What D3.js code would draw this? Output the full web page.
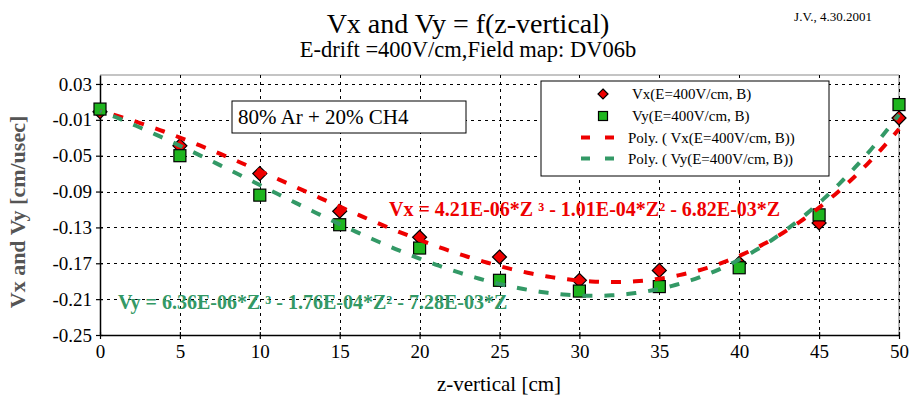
<!DOCTYPE html>
<html><head><meta charset="utf-8">
<script src="https://cdn.jsdelivr.net/npm/d3@7"></script>
<style>
body{margin:0;background:#fff}
svg{display:block}
text{font-family:"Liberation Serif","Times New Roman",serif}
</style>
</head><body>
<svg id="c" width="910" height="403"></svg>
<script>
// ---- data ----
const zValues  = [0, 5, 10, 15, 20, 25, 30, 35, 40, 45, 50];
const vxValues = [-0.001, -0.039, -0.070, -0.112, -0.141, -0.163, -0.189, -0.178, -0.170, -0.125, -0.008];
const vyValues = [0.002, -0.050, -0.094, -0.127, -0.153, -0.189, -0.201, -0.196, -0.175, -0.116, 0.007];
const xTicks = [0, 5, 10, 15, 20, 25, 30, 35, 40, 45, 50];
const yTicks = [-0.25, -0.21, -0.17, -0.13, -0.09, -0.05, -0.01, 0.03];
const yTickLabels = ["-0.25", "-0.21", "-0.17", "-0.13", "-0.09", "-0.05", "-0.01", "0.03"];
const seriesNames = ["Vx(E=400V/cm, B)", "Vy(E=400V/cm, B)"];
const trendNames = ["Poly. ( Vx(E=400V/cm, B))", "Poly. ( Vy(E=400V/cm, B))"];
const equations = ["Vx = 4.21E-06*Z \u00B3 - 1.01E-04*Z\u00B2 - 6.82E-03*Z",
                   "Vy = 6.36E-06*Z \u00B3 - 1.76E-04*Z\u00B2 - 7.28E-03*Z"];
const titleText = "Vx and Vy = f(z-vertical)";
const subtitleText = "E-drift =400V/cm,Field map: DV06b";
const authorText = "J.V., 4.30.2001";
const gasText = "80% Ar + 20% CH4";
const xTitle = "z-vertical [cm]";
const yTitle = "Vx and Vy [cm/usec]";

// ---- colours ----
const RED = "#ee0000", GREEN = "#1fb51f", TEAL = "#339966";
const SERIF = '"Liberation Serif","Times New Roman",serif';

const svg = d3.select("#c");
svg.append("rect").attr("width",910).attr("height",403).attr("fill","#fff");

const x = d3.scaleLinear().domain([0,50]).range([100,899]);
const y = d3.scaleLinear().domain([-0.25,0.04]).range([335,75]);

// frame (gray top/right)
svg.append("line").attr("x1",100).attr("x2",899).attr("y1",75).attr("y2",75).attr("stroke","#8a8a8a").attr("stroke-width",1.2);
svg.append("line").attr("x1",899).attr("x2",899).attr("y1",75).attr("y2",335).attr("stroke","#8a8a8a").attr("stroke-width",1.2);

// gridlines
const grid = svg.append("g").attr("stroke","#000").attr("stroke-width",1).attr("stroke-dasharray","3,4");
grid.selectAll("line.h").data(yTicks.filter(v=>v>-0.25)).join("line")
  .attr("x1",100).attr("x2",899).attr("y1",d=>Math.round(y(d))+0.5).attr("y2",d=>Math.round(y(d))+0.5);
grid.selectAll("line.v").data(xTicks.filter(v=>v>0)).join("line")
  .attr("x1",d=>Math.round(x(d))+0.5).attr("x2",d=>Math.round(x(d))+0.5).attr("y1",75).attr("y2",335);

// axes
const yAxis = d3.axisLeft(y).tickValues(yTicks).tickFormat((d,i)=>yTickLabels[i]).tickSizeInner(4).tickSizeOuter(0).tickPadding(4);
const gy = svg.append("g").attr("transform","translate(100,0)").call(yAxis);
const xAxis = d3.axisBottom(x).tickValues(xTicks).tickFormat(d3.format("d")).tickSizeInner(4).tickSizeOuter(0).tickPadding(6);
const gx = svg.append("g").attr("transform","translate(0,335)").call(xAxis);
[gx,gy].forEach(g=>{
  g.attr("font-family",SERIF);
  g.select(".domain").attr("stroke","#000").attr("stroke-width",1.5);
  g.selectAll(".tick line").attr("stroke","#000").attr("stroke-width",1.2);
  g.selectAll(".tick text").attr("fill","#000").style("font-size","19px").style("font-family",SERIF);
});
gy.selectAll(".tick line").attr("x1",3);
gx.selectAll(".tick line").attr("y1",-3);

// titles
svg.append("text").attr("x",468).attr("y",33).attr("text-anchor","middle").style("font-size","28px").text(titleText);
svg.append("text").attr("x",468).attr("y",57).attr("text-anchor","middle").style("font-size","22.5px").text(subtitleText);
svg.append("text").attr("x",833).attr("y",21).attr("text-anchor","middle").style("font-size","13px").text(authorText);
svg.append("text").attr("x",499).attr("y",391).attr("text-anchor","middle").style("font-size","21px").text(xTitle);
svg.append("text").attr("transform","translate(25,212) rotate(-90)").attr("text-anchor","middle")
  .style("font-size","22px").style("font-weight","bold").attr("fill","#555").text(yTitle);

// gas box
svg.append("rect").attr("x",232).attr("y",101).attr("width",234).attr("height",32).attr("fill","#fff").attr("stroke","#000").attr("stroke-width",1);
svg.append("text").attr("x",238).attr("y",124).style("font-size","21px").text(gasText);

// polynomial trendline: least squares a z^3 + b z^2 + c z (through origin)
function fitCubic0(xs, ys){
  const basis = z => [z*z*z, z*z, z];
  const A = [[0,0,0],[0,0,0],[0,0,0]], b=[0,0,0];
  xs.forEach((z,i)=>{ const f=basis(z); for(let r=0;r<3;r++){ b[r]+=f[r]*ys[i]; for(let c=0;c<3;c++) A[r][c]+=f[r]*f[c]; } });
  for(let i=0;i<3;i++){
    let p=i; for(let r=i+1;r<3;r++) if(Math.abs(A[r][i])>Math.abs(A[p][i])) p=r;
    [A[i],A[p]]=[A[p],A[i]]; [b[i],b[p]]=[b[p],b[i]];
    for(let r=i+1;r<3;r++){ const f=A[r][i]/A[i][i]; for(let c=i;c<3;c++) A[r][c]-=f*A[i][c]; b[r]-=f*b[i]; }
  }
  const s=[0,0,0];
  for(let i=2;i>=0;i--){ let v=b[i]; for(let c=i+1;c<3;c++) v-=A[i][c]*s[c]; s[i]=v/A[i][i]; }
  return z => s[0]*z*z*z + s[1]*z*z + s[2]*z;
}
const fx = fitCubic0(zValues, vxValues), fy = fitCubic0(zValues, vyValues);
const zs = d3.range(0, 50.001, 0.25);
const line = d3.line().x(d=>x(d[0])).y(d=>y(d[1]));

// markers
svg.append("g").selectAll("path").data(zValues.map((z,i)=>[z,vxValues[i]])).join("path")
  .attr("transform",d=>`translate(${x(d[0])},${y(d[1])})`)
  .attr("d","M0,-7L7,0L0,7L-7,0Z").attr("fill",RED).attr("stroke","#000").attr("stroke-width",1.2);
svg.append("g").selectAll("rect").data(zValues.map((z,i)=>[z,vyValues[i]])).join("rect")
  .attr("x",d=>x(d[0])-6).attr("y",d=>y(d[1])-6).attr("width",12).attr("height",12)
  .attr("fill",GREEN).attr("stroke","#000").attr("stroke-width",1.2);

// trend lines
svg.append("path").datum(zs.map(z=>[z,fx(z)])).attr("d",line).attr("fill","none")
  .attr("stroke",RED).attr("stroke-width",4).attr("stroke-dasharray","10,12").attr("stroke-dashoffset",-14);
svg.append("path").datum(zs.map(z=>[z,fy(z)])).attr("d",line).attr("fill","none")
  .attr("stroke",TEAL).attr("stroke-width",4).attr("stroke-dasharray","10,12").attr("stroke-dashoffset",-14);

// equations
svg.append("text").attr("x",389).attr("y",216).style("font-size","20px").style("font-weight","bold").attr("fill",RED).text(equations[0]);
svg.append("text").attr("x",118).attr("y",309).style("font-size","20px").style("font-weight","bold").attr("fill",TEAL).text(equations[1]);

// legend
const lg = svg.append("g");
lg.append("rect").attr("x",541).attr("y",81).attr("width",288).attr("height",95).attr("fill","#fff").attr("stroke","#000").attr("stroke-width",1);
lg.append("path").attr("transform","translate(603,94)").attr("d","M0,-5L5,0L0,5L-5,0Z").attr("fill",RED).attr("stroke","#000").attr("stroke-width",1.2);
lg.append("rect").attr("x",598.5).attr("y",111.5).attr("width",9).attr("height",9).attr("fill",GREEN).attr("stroke","#000").attr("stroke-width",1.2);
lg.append("line").attr("x1",581).attr("x2",614).attr("y1",137.5).attr("y2",137.5).attr("stroke",RED).attr("stroke-width",4).attr("stroke-dasharray","9,15");
lg.append("line").attr("x1",581).attr("x2",614).attr("y1",158.5).attr("y2",158.5).attr("stroke",TEAL).attr("stroke-width",4).attr("stroke-dasharray","9,15");
const lt = [[seriesNames[0],632,99],[seriesNames[1],632,121],[trendNames[0],628,143],[trendNames[1],628,164]];
lg.selectAll("text").data(lt).join("text").attr("x",d=>d[1]).attr("y",d=>d[2]).style("font-size","15px").text(d=>d[0]);
</script>
</body></html>
